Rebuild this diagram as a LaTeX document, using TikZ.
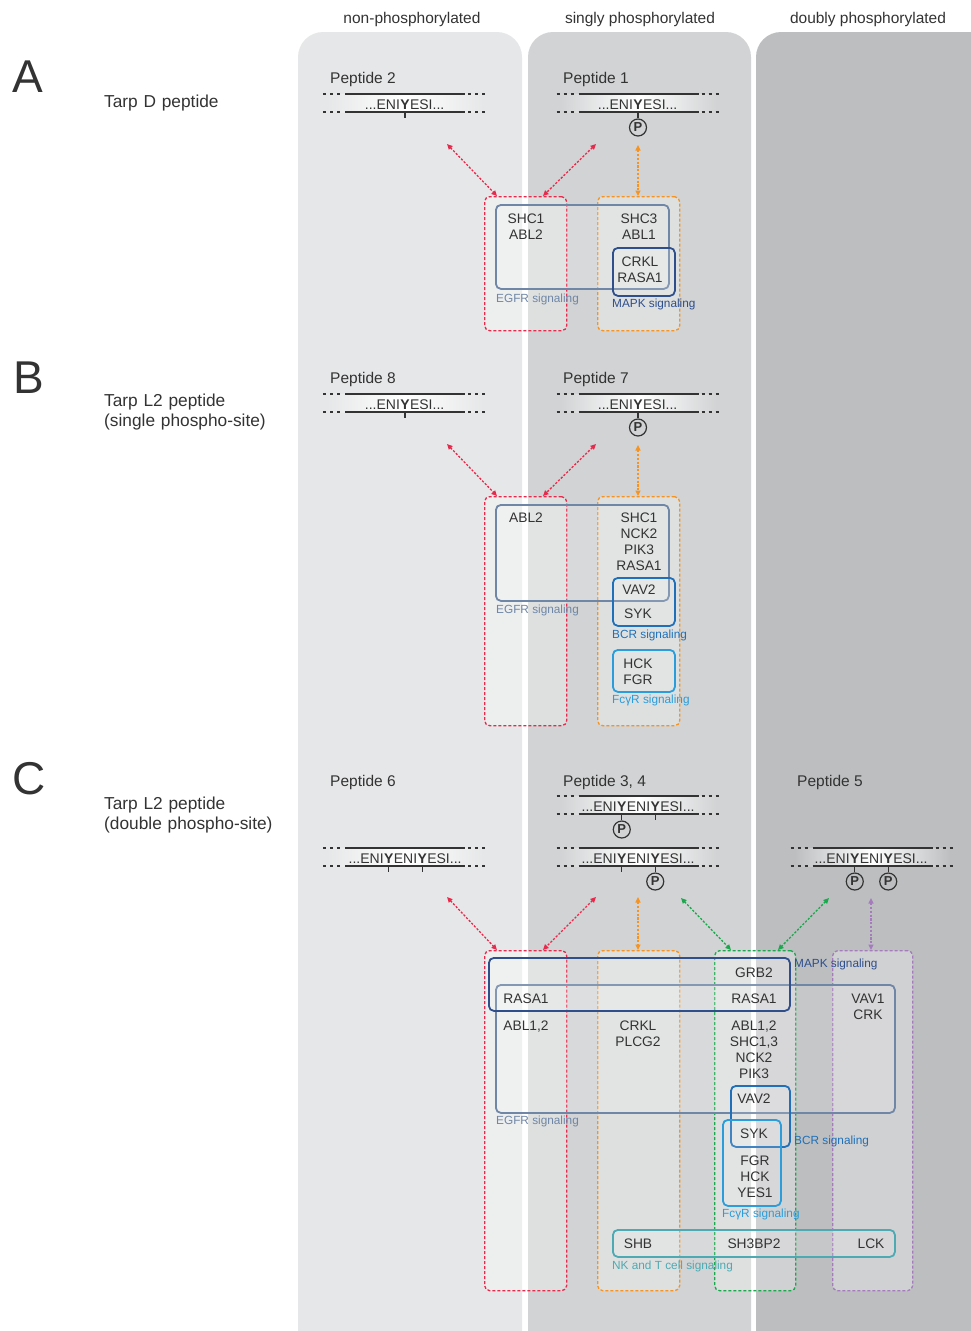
\documentclass[tikz,border=0pt]{standalone}
\usepackage{fontspec}
\setmainfont{Liberation Sans}
\usetikzlibrary{arrows.meta,calc}

\definecolor{colA}{HTML}{E6E7E8}
\definecolor{colB}{HTML}{D1D3D4}
\definecolor{colC}{HTML}{BCBEC0}
\definecolor{ink}{HTML}{333333}
\definecolor{cRed}{HTML}{E8294C}
\definecolor{cOrange}{HTML}{F7931E}
\definecolor{cGreen}{HTML}{19A84B}
\definecolor{cPurple}{HTML}{A57BBE}
\definecolor{cEGFR}{HTML}{6F86A6}
\definecolor{cMAPK}{HTML}{2E4E8C}
\definecolor{cBCR}{HTML}{1F70B8}
\definecolor{cFcR}{HTML}{2B9DDA}
\definecolor{cNK}{HTML}{4DAAB3}

\tikzset{
  every node/.style={inner sep=0pt, text=ink},
  head/.style={font=\fontsize{15.5}{18}\selectfont, anchor=base},
  letter/.style={font=\fontsize{46}{50}\selectfont, anchor=base west},
  title/.style={font=\fontsize{17.3}{20}\selectfont, anchor=base west, text width=220pt, align=left},
  pepname/.style={font=\fontsize{15.5}{18}\selectfont, anchor=base west},
  seq/.style={font=\fontsize{14}{16}\selectfont},
  gene/.style={font=\fontsize{13.8}{16}\selectfont, anchor=base, text width=60pt, align=center},
  lab/.style={font=\fontsize{11.8}{13}\selectfont, anchor=base west, text=#1},
  pepline/.style={draw=ink, line width=1.3pt},
  pepdash/.style={draw=ink, line width=1.2pt, dash pattern=on 3pt off 4pt},
  pcirc/.style={circle, draw=ink, line width=1.2pt, minimum size=17pt,
                font=\bfseries\fontsize{13}{13}\selectfont},
  dbox/.style={draw=#1, dash pattern=on 3pt off 2pt, line width=1.3pt,
               rounded corners=5pt, fill=white, fill opacity=0.3,
               anchor=north west, inner sep=0pt},
  sbox/.style={draw=#1, line width=1.8pt, rounded corners=5pt,
               fill=white, fill opacity=0.15, anchor=north west, inner sep=0pt},
  conn/.style={draw=#1, line width=1.3pt, dash pattern=on 2.2pt off 1.6pt,
               {Triangle[length=5.5pt,width=5pt]}-{Triangle[length=5.5pt,width=5pt]}},
}

% peptide band: the two strands with a white glow between them
\newcommand{\pepband}[3]{% centre x, top-line y, edge colour
  \shade[left color=#3, right color=#3, middle color=white]
    ({#1-78},#2) rectangle ({#1+78},{#2+18});
  \foreach \yy in {#2,#2+18} {
    \draw[pepline] ({#1-60},\yy) -- ({#1+60},\yy);
    \draw[pepdash] ({#1-82},\yy) -- ({#1-62},\yy);
    \draw[pepdash] ({#1+63},\yy) -- ({#1+83},\yy);
  }
}
% ...ENIYESI... with the tyrosine placed at a given x
\newcommand{\singleseq}[3]{% name, Y x, baseline
  \node[seq, anchor=base] (#1y) at (#2,#3) {\textbf{Y}};
  \node[seq, anchor=base east] (#1l) at (#1y.base west) {...ENI};
  \node[seq, anchor=base west] (#1r) at (#1y.base east) {ESI...};
}
% ...ENIYENIYESI... centred on the middle ENI
\newcommand{\doubleseq}[3]{% name, centre x, baseline
  \node[seq, anchor=base] (#1m) at (#2,#3) {ENI};
  \node[seq, anchor=base east] (#1ya) at (#1m.base west) {\textbf{Y}};
  \node[seq, anchor=base west] (#1yb) at (#1m.base east) {\textbf{Y}};
  \node[seq, anchor=base east] (#1l) at (#1ya.base west) {...ENI};
  \node[seq, anchor=base west] (#1r) at (#1yb.base east) {ESI...};
}
% unmodified site: short tick under the strand
\newcommand{\tick}[2]{% Y node, bottom-line y
  \draw[pepline] (#1.center |- 0,#2) -- ++(0,6);
}
% phosphorylated site: stem and circled P
\newcommand{\phos}[3]{% Y node, bottom-line y, P name
  \node[pcirc] (#3) at ($(#1.center |- 0,#2)+(0,15.5)$) {P};
  \draw[pepline] (#1.center |- 0,#2) -- (#3.north);
}

\begin{document}
\begin{tikzpicture}[x=1pt, y=-1pt]
\useasboundingbox (0,0) rectangle (971,1331);

% ---------- state columns ----------
\fill[colA] (298,1331) -- (298,57) arc[start angle=180, end angle=270, radius=25]
  -- (497,32) arc[start angle=270, end angle=360, radius=25] -- (522,1331) -- cycle;
\fill[colB] (528,1331) -- (528,57) arc[start angle=180, end angle=270, radius=25]
  -- (726,32) arc[start angle=270, end angle=360, radius=25] -- (751,1331) -- cycle;
\fill[colC] (756,1331) -- (756,57) arc[start angle=180, end angle=270, radius=25]
  -- (971,32) -- (971,1331) -- cycle;

\node[head] (h1) at (412,23) {non-phosphorylated};
\node[head] (h2) at (640,23) {singly phosphorylated};
\node[head] (h3) at (868,23) {doubly phosphorylated};

% ---------- row labels ----------
\node[letter] (LA) at (12,92) {A};
\node[letter] (LB) at (13,393) {B};
\node[letter] (LC) at (12,794) {C};
\node[title] (TA) at (104,107) {Tarp D peptide};
\node[title] (TB) at (104,406) {Tarp L2 peptide\\(single phospho-site)};
\node[title] (TC) at (104,809) {Tarp L2 peptide\\(double phospho-site)};

% =================== A ===================
\node[pepname] (nP2) at (330,83) {Peptide 2};
\node[pepname] (nP1) at (563,83) {Peptide 1};
\pepband{405}{94}{colA}
\singleseq{pa}{405}{109}
\tick{pay}{112}
\pepband{638.5}{94}{colB}
\singleseq{pb}{638}{109}
\phos{pby}{112}{pbP}

\node[dbox=cRed, minimum width=82pt, minimum height=134pt] (redA) at (484,196) {};
\node[dbox=cOrange, minimum width=82pt, minimum height=134pt] (oraA) at (597,196) {};
\node[sbox=cEGFR, minimum width=173pt, minimum height=84pt] (egfrA) at (495,204) {};
\node[sbox=cMAPK, minimum width=62pt, minimum height=48pt] (mapkA) at (612,247) {};

\coordinate (aA1) at (447,144);
\coordinate (aA2) at (596,144);
\coordinate (aA3) at (638,145);
\draw[conn=cRed] (aA1) -- ($(redA.north west)+(13,0)$);
\draw[conn=cRed] (aA2) -- ($(redA.north west)+(59,0)$);
\draw[conn=cOrange] (aA3) -- (oraA.north -| aA3);

\node[gene] (gA1) at (526,223) {SHC1\\ABL2};
\node[gene] (gA2) at (639,223) {SHC3\\ABL1};
\node[gene] (gA3) at (640,266) {CRKL\\RASA1};
\node[lab=cEGFR] (lA1) at (496,302) {EGFR signaling};
\node[lab=cMAPK] (lA2) at (612,307) {MAPK signaling};

% =================== B ===================
\node[pepname] (nP8) at (330,383) {Peptide 8};
\node[pepname] (nP7) at (563,383) {Peptide 7};
\pepband{405}{394}{colA}
\singleseq{pc}{405}{409}
\tick{pcy}{412}
\pepband{638.5}{394}{colB}
\singleseq{pd}{638}{409}
\phos{pdy}{412}{pdP}

\node[dbox=cRed, minimum width=82pt, minimum height=229pt] (redB) at (484,496) {};
\node[dbox=cOrange, minimum width=82pt, minimum height=229pt] (oraB) at (597,496) {};
\node[sbox=cEGFR, minimum width=173pt, minimum height=96pt] (egfrB) at (495,504) {};
\node[sbox=cBCR, minimum width=62pt, minimum height=48pt] (bcrB) at (612,577) {};
\node[sbox=cFcR, minimum width=62pt, minimum height=42pt] (fcrB) at (612,649) {};

\coordinate (aB1) at (447,444);
\coordinate (aB2) at (596,444);
\coordinate (aB3) at (638,445);
\draw[conn=cRed] (aB1) -- ($(redB.north west)+(13,0)$);
\draw[conn=cRed] (aB2) -- ($(redB.north west)+(59,0)$);
\draw[conn=cOrange] (aB3) -- (oraB.north -| aB3);

\node[gene] (gB1) at (526,522) {ABL2};
\node[gene] (gB2) at (639,522) {SHC1\\NCK2\\PIK3\\RASA1};
\node[gene] (gB3) at (639,594) {VAV2};
\node[gene] (gB4) at (638,618) {SYK};
\node[gene] (gB5) at (638,668) {HCK\\FGR};
\node[lab=cEGFR] (lB1) at (496,613) {EGFR signaling};
\node[lab=cBCR] (lB2) at (612,638) {BCR signaling};
\node[lab=cFcR] (lB3) at (612,703) {FcγR signaling};

% =================== C ===================
\node[pepname] (nP6) at (330,786) {Peptide 6};
\node[pepname] (nP34) at (563,786) {Peptide 3, 4};
\node[pepname] (nP5) at (797,786) {Peptide 5};

\pepband{638.5}{796}{colB}
\doubleseq{pe}{638.5}{811}
\phos{peya}{814}{peP}
\tick{peyb}{814}

\pepband{405}{848}{colA}
\doubleseq{pf}{405.5}{863}
\tick{pfya}{866}
\tick{pfyb}{866}

\pepband{638.5}{848}{colB}
\doubleseq{pg}{638.5}{863}
\tick{pgya}{866}
\phos{pgyb}{866}{pgP}

\pepband{872.5}{848}{colC}
\doubleseq{ph}{871.5}{863}
\phos{phya}{866}{phPa}
\phos{phyb}{866}{phPb}

\node[dbox=cRed, minimum width=82pt, minimum height=340pt] (redC) at (484,950) {};
\node[dbox=cOrange, minimum width=82pt, minimum height=340pt] (oraC) at (597,950) {};
\node[dbox=cGreen, minimum width=81pt, minimum height=340pt] (grnC) at (714,950) {};
\node[dbox=cPurple, minimum width=80pt, minimum height=340pt] (purC) at (832,950) {};
\node[sbox=cEGFR, minimum width=399pt, minimum height=128pt] (egfrC) at (495,984) {};
\node[sbox=cMAPK, minimum width=301pt, minimum height=53pt] (mapkC) at (488,957) {};
\node[sbox=cBCR, minimum width=59pt, minimum height=61pt] (bcrC) at (730,1085) {};
\node[sbox=cFcR, minimum width=58pt, minimum height=86pt] (fcrC) at (722,1119) {};
\node[sbox=cNK, minimum width=282pt, minimum height=27pt] (nkC) at (612,1229) {};

\coordinate (aC1) at (447,897);
\coordinate (aC2) at (596,897);
\coordinate (aC3) at (638,897);
\coordinate (aC4) at (681,898);
\coordinate (aC5) at (829,898);
\coordinate (aC6) at (871,898);
\draw[conn=cRed] (aC1) -- ($(redC.north west)+(13,0)$);
\draw[conn=cRed] (aC2) -- ($(redC.north west)+(59,0)$);
\draw[conn=cOrange] (aC3) -- (oraC.north -| aC3);
\draw[conn=cGreen] (aC4) -- ($(grnC.north west)+(17,0)$);
\draw[conn=cGreen] (aC5) -- ($(grnC.north west)+(64,0)$);
\draw[conn=cPurple] (aC6) -- (purC.north -| aC6);

\node[gene] (gC1) at (754,977) {GRB2};
\node[gene] (gC2) at (526,1003) {RASA1};
\node[gene] (gC3) at (754,1003) {RASA1};
\node[gene] (gC4) at (868,1003) {VAV1\\CRK};
\node[gene] (gC5) at (526,1030) {ABL1,2};
\node[gene] (gC6) at (638,1030) {CRKL\\PLCG2};
\node[gene] (gC7) at (754,1030) {ABL1,2\\SHC1,3\\NCK2\\PIK3};
\node[gene] (gC8) at (754,1103) {VAV2};
\node[gene] (gC9) at (754,1138) {SYK};
\node[gene] (gC10) at (755,1165) {FGR\\HCK\\YES1};
\node[gene] (gC11) at (638,1248) {SHB};
\node[gene] (gC12) at (754,1248) {SH3BP2};
\node[gene] (gC13) at (871,1248) {LCK};

\node[lab=cMAPK] (lC1) at (794,967) {MAPK signaling};
\node[lab=cEGFR] (lC2) at (496,1124) {EGFR signaling};
\node[lab=cBCR] (lC3) at (794,1144) {BCR signaling};
\node[lab=cFcR] (lC4) at (722,1217) {FcγR signaling};
\node[lab=cNK] (lC5) at (612,1269) {NK and T cell signaling};
\end{tikzpicture}
\end{document}
